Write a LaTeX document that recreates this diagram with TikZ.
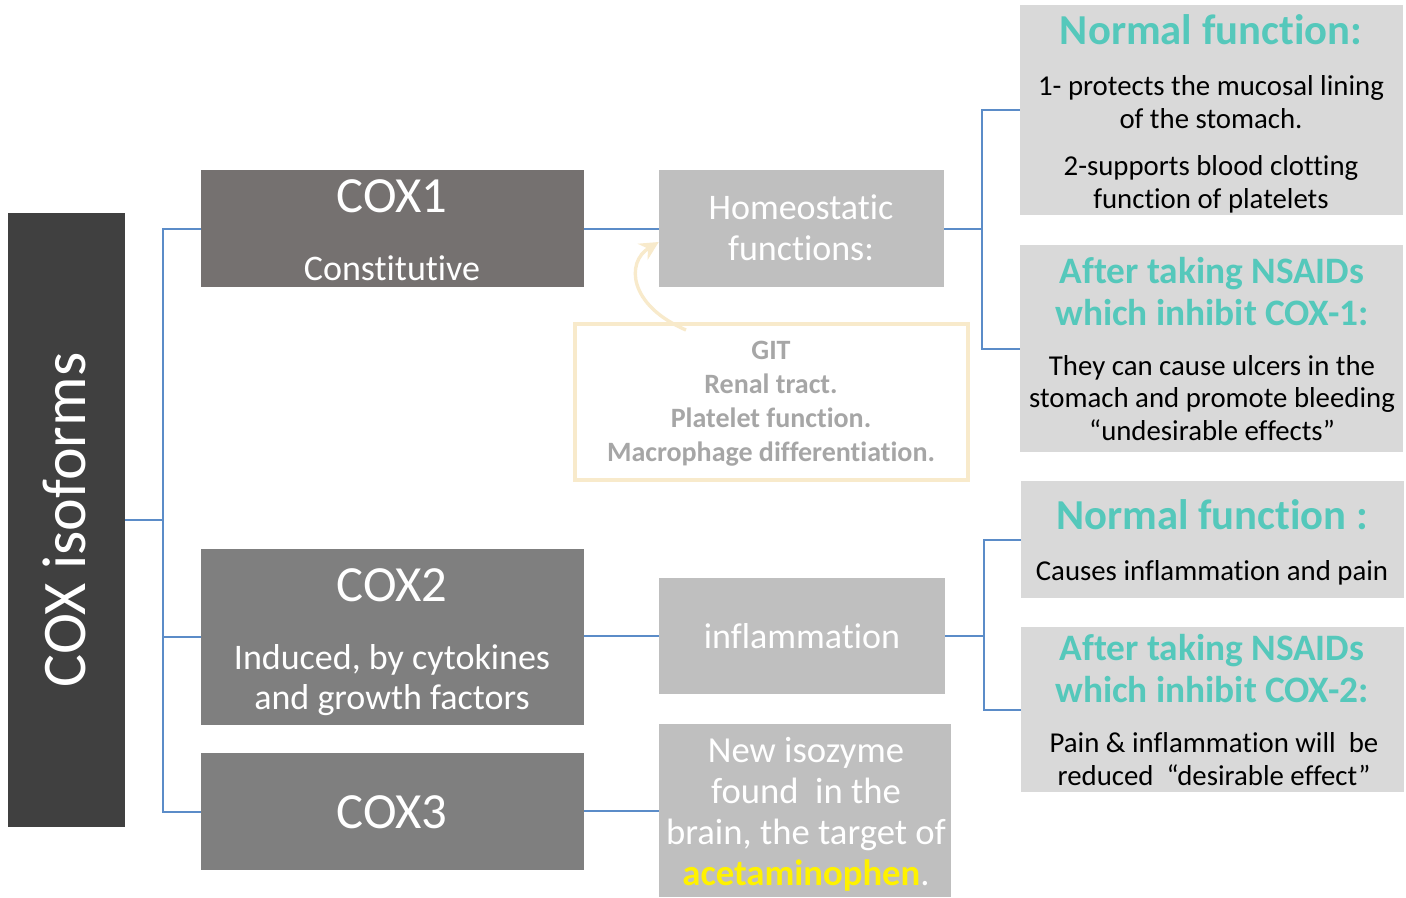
\documentclass[tikz,border=0pt]{standalone}
\usepackage{fontspec}
\setmainfont{Carlito}[Ligatures=NoCommon]
\usetikzlibrary{fit,arrows.meta}

\definecolor{isodark}{HTML}{404040}
\definecolor{coxone}{HTML}{757170}
\definecolor{coxgray}{HTML}{7F7F7F}
\definecolor{midgray}{HTML}{BFBFBF}
\definecolor{palegray}{HTML}{D9D9D9}
\definecolor{linkblue}{HTML}{5B8CC8}
\definecolor{tealhead}{HTML}{55C8BB}
\definecolor{cream}{HTML}{F8EACB}
\definecolor{gittext}{HTML}{A6A6A6}

% font sizes
\newcommand{\fbig}{\fontsize{46.5}{52}\selectfont}
\newcommand{\fcox}{\fontsize{38}{44}\selectfont}
\newcommand{\ftile}{\fontsize{27}{30.5}\selectfont}
\newcommand{\fhead}{\fontsize{32}{36}\selectfont\bfseries}
\newcommand{\fsub}{\fontsize{28}{31.5}\selectfont\bfseries}
\newcommand{\fbody}{\fontsize{21.6}{24.5}\selectfont}
\newcommand{\fgit}{\fontsize{21}{25.5}\selectfont\bfseries}

\begin{document}
\begin{tikzpicture}[x=0.75pt,y=-0.75pt,
  tile/.style={inner sep=0pt, draw=none},
  link/.style={draw=linkblue, line width=1.5pt},
  wtext/.style={text=white, align=center, inner sep=0pt},
  btext/.style={text=black, align=center, inner sep=0pt, font=\fbody},
  htext/.style={text=tealhead, align=center, inner sep=0pt}]
  \useasboundingbox[fill=white] (0,0) rectangle (1406,897);

  %left column
  \node[tile, fill=isodark, fit={(8,213) (125,827)}] (iso) {};
  \node[wtext, rotate=90, font=\fbig] (isotext) at (64,520) {COX isoforms};

  \node[tile, fill=coxone, fit={(201,170) (584,287)}] (cox1) {};
  \node[tile, fill=coxgray, fit={(201,549) (584,725)}] (cox2) {};
  \node[tile, fill=coxgray, fit={(201,753) (584,870)}] (cox3) {};
  \node[wtext, font=\fcox] (cox1-name) at (392,196) {COX1};
  \node[wtext, font=\ftile] (cox1-type) at (392,268) {Constitutive};
  \node[wtext, font=\fcox] (cox2-name) at (392,585) {COX2};
  \node[wtext, font=\ftile] (cox2-type) at (392,680) {Induced, by cytokines\\ and growth factors};
  \node[wtext, font=\fcox] (cox3-name) at (392,812) {COX3};

  %middle column
  \node[tile, fill=midgray, fit={(659,170) (944,287)}] (home) {};
  \node[wtext, font=\ftile] (home-text) at (801,228) {Homeostatic\\ functions:};
  \node[tile, fill=midgray, fit={(659,578) (945,694)}] (inflam) {};
  \node[wtext, font=\ftile] (inflam-text) at (802,636) {inflammation};
  \node[tile, fill=midgray, fit={(659,724) (951,897)}] (iso3) {};
  \node[wtext, font=\fontsize{27.5}{30.75}\selectfont] (iso3-text) at (806,814)
    {New isozyme\\ found\ \ in the\\ brain, the target of\\ {\bfseries\color{yellow}acetaminophen}.};

  \node[tile, draw=cream, line width=3pt, fill=white, fit={(575,324) (968,480)}] (git) {};
  \node[text=gittext, align=center, inner sep=0pt, font=\fgit] (git-text) at (771,404)
    {GIT\\ Renal tract.\\ Platelet function.\\ Macrophage differentiation.};
  \draw[cream, line width=2.5pt, -{Stealth[length=14pt,width=14pt]}]
    (686,330) .. controls (628,305) and (626,262) .. (home.west |- 0,242);

  %right column
  \node[tile, fill=palegray, fit={(1020,5) (1403,215)}] (nf1) {};
  \node[htext, font=\fhead] (nf1-head) at (1211,30) {Normal function:};
  \node[btext] (nf1-body) at (1211,144)
    {1- protects the mucosal lining\\ of the stomach.\\[11pt] 2-supports blood clotting\\ function of platelets};
  \node[tile, fill=palegray, fit={(1020,245) (1403,452)}] (af1) {};
  \node[htext, font=\fsub] (af1-head) at (1212,292) {After taking NSAIDs\\ which inhibit COX-1:};
  \node[btext] (af1-body) at (1212,398)
    {They can cause ulcers in the\\ stomach and promote bleeding\\ “undesirable effects”};
  \node[tile, fill=palegray, fit={(1021,481) (1404,598)}] (nf2) {};
  \node[htext, font=\fhead] (nf2-head) at (1212,515) {Normal function :};
  \node[btext] (nf2-body) at (1212,573) {Causes inflammation and pain};
  \node[tile, fill=palegray, fit={(1021,627) (1404,792)}] (af2) {};
  \node[htext, font=\fsub] (af2-head) at (1212,669) {After taking NSAIDs\\ which inhibit COX-2:};
  \node[btext] (af2-body) at (1214,759)
    {Pain \& inflammation will\ \ be\\ reduced\ \ “desirable effect”};

  %connectors
  \coordinate (j1) at (163,520);
  \coordinate (j2) at (982,228.5);
  \coordinate (j3) at (984,636);
  \draw[link] (iso.east) -- (j1);
  \foreach \t in {cox1,cox2,cox3}
    \draw[link] (j1) |- (\t.west);
  \draw[link] (cox1.east) -- (home.west);
  \draw[link] (cox2.east |- inflam.west) -- (inflam.west);
  \draw[link] (cox3.east |- iso3.west) -- (iso3.west);
  \draw[link] (home.east) -- (j2);
  \foreach \t in {nf1,af1}
    \draw[link] (j2) |- (\t.west);
  \draw[link] (inflam.east) -- (j3);
  \foreach \t in {nf2,af2}
    \draw[link] (j3) |- (\t.west);
\end{tikzpicture}
\end{document}
